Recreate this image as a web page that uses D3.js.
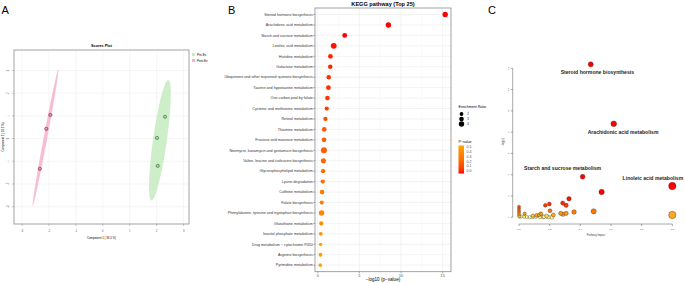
<!DOCTYPE html>
<html>
<head>
<meta charset="utf-8">
<script src="https://cdn.jsdelivr.net/npm/d3@7"></script>
<style>
  body { margin: 0; background: #fff; }
  svg { display: block; font-family: "Liberation Sans", Arial, sans-serif; }
</style>
</head>
<body>
<svg id="fig" width="685" height="283"></svg>
<script>
// ---------- data ----------
// panel A: scores plot
var scoreGroup = ["Pre-Ex","Pre-Ex","Pre-Ex","Post-Ex","Post-Ex","Post-Ex"];
var scoreX = [2.31, 2.01, 2.04, -1.95, -2.10, -2.34];
var scoreY = [0.96, 0.03, -1.20, 1.04, 0.43, -1.33];
var scoreTicks = [-3, -2, -1, 0, 1, 2, 3];

// panel B: KEGG top 25
var pathways = ["Steroid hormone biosynthesis","Arachidonic acid metabolism","Starch and sucrose metabolism",
  "Linoleic acid metabolism","Histidine metabolism","Galactose metabolism",
  "Ubiquinone and other terpenoid\u2212quinone biosynthesis","Taurine and hypotaurine metabolism",
  "One carbon pool by folate","Cysteine and methionine metabolism","Retinol metabolism","Thiamine metabolism",
  "Fructose and mannose metabolism","Neomycin, kanamycin and gentamicin biosynthesis",
  "Valine, leucine and isoleucine biosynthesis","Glycerophospholipid metabolism","Lysine degradation",
  "Caffeine metabolism","Folate biosynthesis","Phenylalanine, tyrosine and tryptophan biosynthesis",
  "Glutathione metabolism","Inositol phosphate metabolism","Drug metabolism \u2212 cytochrome P450",
  "Arginine biosynthesis","Pyrimidine metabolism"];
var negLogP = [15.3, 8.48, 3.24, 1.92, 1.52, 1.50, 1.32, 1.28, 1.16, 1.08, 0.92, 0.78,
  0.76, 0.74, 0.68, 0.64, 0.60, 0.52, 0.48, 0.46, 0.42, 0.36, 0.34, 0.33, 0.30];
var enrichRatio = [4.0, 4.0, 3.3, 4.6, 3.0, 2.8, 2.8, 3.2, 3.0, 2.5, 2.5, 3.0,
  3.0, 5.0, 3.6, 2.6, 2.6, 3.0, 2.5, 4.0, 2.3, 2.0, 1.5, 2.0, 1.8];
var ratioLegend = [2, 3, 4];
var pLegend = [0.5, 0.4, 0.3, 0.2, 0.1, 0.0];
var bTicks = [0, 5, 10, 15];

// panel C: pathway impact
var impactName = ["Steroid hormone biosynthesis","Arachidonic acid metabolism","Starch and sucrose metabolism",
  "Linoleic acid metabolism","","","","","","","","","","","","","","","","","","","","","","","","","","","","","","","","","","","","","",""];
var impact = [0.468, 0.618, 0.415, 1.0, 1.0, 0.539, 0.326, 0.172, 0.198, 0.285, 0.307, 0.202, 0.487, 0.359,
  0.307, 0.272, 0.287, 0.224, 0.143, 0.132, 0.115, 0.09, 0.037, 0.0, 0.0, 0.0, 0.0, 0.0, 0.0, 0.005,
  0.18, 0.158, 0.137, 0.163, 0.19, 0.215, 0.09, 0.05, 0.033, 0.11, 0.07, 0.015];
var impactLogP = [14.37, 8.79, 3.81, 2.94, 0.22, 2.38, 1.75, 1.13, 1.25, 1.34, 1.13, 0.62, 0.56, 0.50,
  0.37, 0.37, 0.28, 0.22, 0.34, 0.22, 0.20, 0.15, 0.34, 1.0, 0.8, 0.6, 0.42, 0.25, 0.1, 0.05,
  0.12, 0.02, 0.03, 0.05, 0.02, 0.01, 0.02, 0.03, 0.04, 0.06, 0.01, 0.08];
var cYTicks = [0, 2, 4, 6, 8, 10, 12, 14];
var cXTicks = [0, 0.2, 0.4, 0.6, 0.8, 1.0];

var svg = d3.select("#fig");
var gridCol = "#ebebeb", frameCol = "#8c8c8c", tickTxt = "#4d4d4d";

// panel letters
svg.selectAll(".letter").data([["A",1.5],["B",228],["C",488]]).enter()
  .append("text").attr("x", d => d[1]).attr("y", 13.5)
  .attr("font-size", 11).text(d => d[0]);

// ---------- A: scores plot ----------
var gA = svg.append("g");
var xA = d3.scaleLinear().domain([-3.3, 3.2]).range([14, 189]);
var yA = d3.scaleLinear().domain([-3.76, 3.9]).range([224, 50]);
var groupFill = {"Pre-Ex": "#c6ebbf", "Post-Ex": "#f7b3c8"};
var pointFill = {"Pre-Ex": "#a8dc9e", "Post-Ex": "#ee8fae"};
var pointEdge = {"Pre-Ex": "#2f5f2f", "Post-Ex": "#6b2438"};

gA.selectAll(".gx").data(scoreTicks).enter().append("line")
  .attr("x1", d => xA(d)).attr("x2", d => xA(d)).attr("y1", 50).attr("y2", 224)
  .attr("stroke", gridCol).attr("stroke-width", 0.5);
gA.selectAll(".gy").data(scoreTicks).enter().append("line")
  .attr("y1", d => yA(d)).attr("y2", d => yA(d)).attr("x1", 14).attr("x2", 189)
  .attr("stroke", gridCol).attr("stroke-width", 0.5);

// 95% ellipse from each group's covariance
function ellipse(xs, ys, k) {
  var n = xs.length, mx = d3.mean(xs), my = d3.mean(ys);
  var sxx = d3.sum(xs, v => (v - mx) * (v - mx)) / (n - 1);
  var syy = d3.sum(ys, v => (v - my) * (v - my)) / (n - 1);
  var sxy = d3.sum(xs, (v, i) => (v - mx) * (ys[i] - my)) / (n - 1);
  var tr = sxx + syy, det = sxx * syy - sxy * sxy;
  var disc = Math.sqrt(tr * tr / 4 - det);
  var l1 = tr / 2 + disc, l2 = Math.max(tr / 2 - disc, 0);
  var th = Math.atan2(l1 - sxx, sxy);
  return d3.range(0, 361, 4).map(function(a) {
    var t = a * Math.PI / 180;
    var u = k * Math.sqrt(l1) * Math.cos(t), v = k * Math.sqrt(l2) * Math.sin(t);
    return [mx + u * Math.cos(th) - v * Math.sin(th), my + u * Math.sin(th) + v * Math.cos(th)];
  });
}
var groups = ["Pre-Ex", "Post-Ex"];
groups.forEach(function(g) {
  var xs = scoreX.filter((v, i) => scoreGroup[i] == g);
  var ys = scoreY.filter((v, i) => scoreGroup[i] == g);
  gA.append("path")
    .attr("d", d3.line().x(d => xA(d[0])).y(d => yA(d[1]))(ellipse(xs, ys, Math.sqrt(5.991))))
    .attr("fill", groupFill[g]).attr("fill-opacity", 0.85);
});
gA.selectAll(".pt").data(scoreX).enter().append("circle")
  .attr("cx", d => xA(d)).attr("cy", (d, i) => yA(scoreY[i])).attr("r", 1.6)
  .attr("fill", (d, i) => pointFill[scoreGroup[i]])
  .attr("stroke", (d, i) => pointEdge[scoreGroup[i]]).attr("stroke-width", 0.6);

gA.append("rect").attr("x", 14).attr("y", 50).attr("width", 175).attr("height", 174)
  .attr("fill", "none").attr("stroke", frameCol).attr("stroke-width", 0.8);
gA.selectAll(".tx").data(scoreTicks).enter().append("line")
  .attr("x1", d => xA(d)).attr("x2", d => xA(d)).attr("y1", 224).attr("y2", 226)
  .attr("stroke", frameCol).attr("stroke-width", 0.5);
gA.selectAll(".ty").data(scoreTicks).enter().append("line")
  .attr("y1", d => yA(d)).attr("y2", d => yA(d)).attr("x1", 12).attr("x2", 14)
  .attr("stroke", frameCol).attr("stroke-width", 0.5);
gA.selectAll(".txl").data(scoreTicks).enter().append("text")
  .attr("x", d => xA(d)).attr("y", 232).attr("text-anchor", "middle")
  .attr("font-size", 2.6).attr("fill", tickTxt).text(d => d);
gA.selectAll(".tyl").data(scoreTicks).enter().append("text")
  .attr("transform", d => "translate(9," + yA(d) + ") rotate(-90)")
  .attr("text-anchor", "middle").attr("font-size", 2.6).attr("fill", tickTxt).text(d => d);
gA.append("text").attr("x", 101.5).attr("y", 46.5).attr("text-anchor", "middle")
  .attr("font-size", 3.8).attr("font-weight", "bold").text("Scores Plot");
gA.append("text").attr("x", 101.5).attr("y", 239).attr("text-anchor", "middle")
  .attr("font-size", 2.8).text("Component 1 ( 33.5 %)");
gA.append("text").attr("transform", "translate(3.5,137) rotate(-90)").attr("text-anchor", "middle")
  .attr("font-size", 2.8).text("Component 2 ( 10.2 %)");
var legA = gA.selectAll(".legA").data(groups).enter().append("g")
  .attr("transform", (d, i) => "translate(192," + (53 + i * 6) + ")");
legA.append("rect").attr("width", 3).attr("height", 3).attr("fill", d => groupFill[d]);
legA.append("text").attr("x", 5).attr("y", 2.6).attr("font-size", 3).text(d => d);

// ---------- B: KEGG dot plot ----------
var gB = svg.append("g");
var xB = d3.scaleLinear().domain([-0.33, 16.0]).range([315, 451]);
var yB = d3.scalePoint().domain(pathways).range([8, 271.7]).padding(0.625);
var rB = d3.scaleSqrt().domain([0, 5]).range([0, 3.0]);
var colB = d3.scaleLinear().domain([0, 0.5]).range(["#ff0000", "#ffa500"]).interpolate(d3.interpolateLab);

gB.selectAll(".mg").data([2.5, 7.5, 12.5]).enter().append("line")
  .attr("x1", d => xB(d)).attr("x2", d => xB(d)).attr("y1", 8).attr("y2", 271.7)
  .attr("stroke", "#f3f3f3").attr("stroke-width", 0.4);
gB.selectAll(".vg").data(bTicks).enter().append("line")
  .attr("x1", d => xB(d)).attr("x2", d => xB(d)).attr("y1", 8).attr("y2", 271.7)
  .attr("stroke", gridCol).attr("stroke-width", 0.6);
gB.selectAll(".hg").data(pathways).enter().append("line")
  .attr("y1", d => yB(d)).attr("y2", d => yB(d)).attr("x1", 315).attr("x2", 451)
  .attr("stroke", gridCol).attr("stroke-width", 0.6);
gB.selectAll(".dot").data(pathways).enter().append("circle")
  .attr("cx", (d, i) => xB(negLogP[i])).attr("cy", d => yB(d))
  .attr("r", (d, i) => rB(enrichRatio[i]))
  .attr("fill", (d, i) => colB(Math.pow(10, -negLogP[i])));
gB.append("rect").attr("x", 315).attr("y", 8).attr("width", 136).attr("height", 263.7)
  .attr("fill", "none").attr("stroke", frameCol).attr("stroke-width", 0.8);
gB.selectAll(".yt").data(pathways).enter().append("line")
  .attr("y1", d => yB(d)).attr("y2", d => yB(d)).attr("x1", 313.3).attr("x2", 315)
  .attr("stroke", "#333").attr("stroke-width", 0.4);
gB.selectAll(".yl").data(pathways).enter().append("text")
  .attr("x", 312.8).attr("y", d => yB(d) + 1.3).attr("text-anchor", "end")
  .attr("font-size", 3.7).attr("fill", "#333").text(d => d);
gB.selectAll(".xt").data(bTicks).enter().append("line")
  .attr("x1", d => xB(d)).attr("x2", d => xB(d)).attr("y1", 271.7).attr("y2", 273.3)
  .attr("stroke", "#333").attr("stroke-width", 0.4);
gB.selectAll(".xl").data(bTicks).enter().append("text")
  .attr("x", d => xB(d)).attr("y", 276.8).attr("text-anchor", "middle")
  .attr("font-size", 3.7).attr("fill", tickTxt).text(d => d);
gB.append("text").attr("x", 383).attr("y", 281.3).attr("text-anchor", "middle")
  .attr("font-size", 4.6).text("\u2212log10 (p\u2212value)");
gB.append("text").attr("x", 383).attr("y", 6.2).attr("text-anchor", "middle")
  .attr("font-size", 5.6).attr("font-weight", "bold").text("KEGG pathway (Top 25)");

// legend B
gB.append("text").attr("x", 458.5).attr("y", 108).attr("font-size", 3.6).text("Enrichment Ratio");
var sizeLeg = gB.selectAll(".sl").data(ratioLegend).enter().append("g")
  .attr("transform", (d, i) => "translate(461.5," + (114 + i * 5) + ")");
sizeLeg.append("circle").attr("r", d => rB(d)).attr("fill", "#000");
sizeLeg.append("text").attr("x", 5.5).attr("y", 1.3).attr("font-size", 3.5).attr("fill", tickTxt).text(d => d);

gB.append("text").attr("x", 458.5).attr("y", 143).attr("font-size", 3.6).text("P\u2212value");
var grad = svg.append("defs").append("linearGradient").attr("id", "pgrad")
  .attr("x1", 0).attr("y1", 0).attr("x2", 0).attr("y2", 1);
d3.range(0, 1.01, 0.1).forEach(function(t) {
  grad.append("stop").attr("offset", t).attr("stop-color", colB(0.5 * (1 - t)));
});
var yLeg = d3.scaleLinear().domain([0.5, 0]).range([147, 171]);
gB.append("rect").attr("x", 458.5).attr("y", 145.5).attr("width", 5.5).attr("height", 28)
  .attr("fill", "url(#pgrad)");
gB.selectAll(".pl").data(pLegend).enter().append("text")
  .attr("x", 466.5).attr("y", d => yLeg(d) + 1.2).attr("font-size", 3.5).attr("fill", tickTxt)
  .text(d => d.toFixed(1));

// ---------- C: pathway impact ----------
var gC = svg.append("g");
var xC = d3.scaleLinear().domain([0, 1]).range([519, 672.3]);
var yC = d3.scaleLinear().domain([0, 14]).range([217.3, 68.3]);
var rC = d3.scaleLinear().domain([0, 1]).range([1.5, 3.7]);
var colC = d3.scaleLinear().domain([0, 0.08, 0.2, 0.5, 1.2, 2])
  .range(["#ffffb0", "#ffee55", "#ffaa22", "#ff8000", "#ff3300", "#ff0000"]);

gC.append("line").attr("x1", 512.7).attr("x2", 512.7).attr("y1", yC(0)).attr("y2", yC(14))
  .attr("stroke", "#555").attr("stroke-width", 0.5);
gC.selectAll(".cyt").data(cYTicks).enter().append("line")
  .attr("x1", 510.7).attr("x2", 512.7).attr("y1", d => yC(d)).attr("y2", d => yC(d))
  .attr("stroke", "#555").attr("stroke-width", 0.5);
gC.selectAll(".cyl").data(cYTicks).enter().append("text")
  .attr("transform", d => "translate(508.5," + yC(d) + ") rotate(-90)")
  .attr("text-anchor", "middle").attr("font-size", 2.4).attr("fill", "#444").text(d => d);
gC.append("line").attr("x1", xC(0)).attr("x2", xC(1)).attr("y1", 224).attr("y2", 224)
  .attr("stroke", "#555").attr("stroke-width", 0.5);
gC.selectAll(".cxt").data(cXTicks).enter().append("line")
  .attr("x1", d => xC(d)).attr("x2", d => xC(d)).attr("y1", 224).attr("y2", 226)
  .attr("stroke", "#555").attr("stroke-width", 0.5);
gC.selectAll(".cxl").data(cXTicks).enter().append("text")
  .attr("x", d => xC(d)).attr("y", 230.2).attr("text-anchor", "middle")
  .attr("font-size", 2.4).attr("fill", "#444").text(d => d.toFixed(1));
gC.append("text").attr("x", 596).attr("y", 236).attr("text-anchor", "middle")
  .attr("font-size", 2.6).attr("fill", "#444").text("Pathway Impact");
gC.append("text").attr("transform", "translate(503.5,142) rotate(-90)").attr("text-anchor", "middle")
  .attr("font-size", 2.6).attr("fill", "#444").text("-log(p)");

// draw low values first so the red ones sit on top
var order = d3.range(impact.length).sort((a, b) => impactLogP[a] - impactLogP[b]);
gC.selectAll(".cp").data(order).enter().append("circle")
  .attr("cx", i => xC(impact[i])).attr("cy", i => yC(impactLogP[i]))
  .attr("r", i => rC(impact[i]))
  .attr("fill", i => colC(impactLogP[i]))
  .attr("stroke", "#222").attr("stroke-width", 0.35);

var labelShift = {
  "Steroid hormone biosynthesis": [6.6, 9.8],
  "Arachidonic acid metabolism": [9.3, 10.4],
  "Starch and sucrose metabolism": [-20, -6.9],
  "Linoleic acid metabolism": [-19.4, -5.9]
};
gC.selectAll(".cn").data(d3.range(impact.length).filter(i => impactName[i] != "")).enter()
  .append("text")
  .attr("x", i => xC(impact[i]) + labelShift[impactName[i]][0])
  .attr("y", i => yC(impactLogP[i]) + labelShift[impactName[i]][1])
  .attr("text-anchor", "middle").attr("font-size", 5.1).attr("font-weight", "bold")
  .attr("fill", "#222").text(i => impactName[i]);
</script>
</body>
</html>
